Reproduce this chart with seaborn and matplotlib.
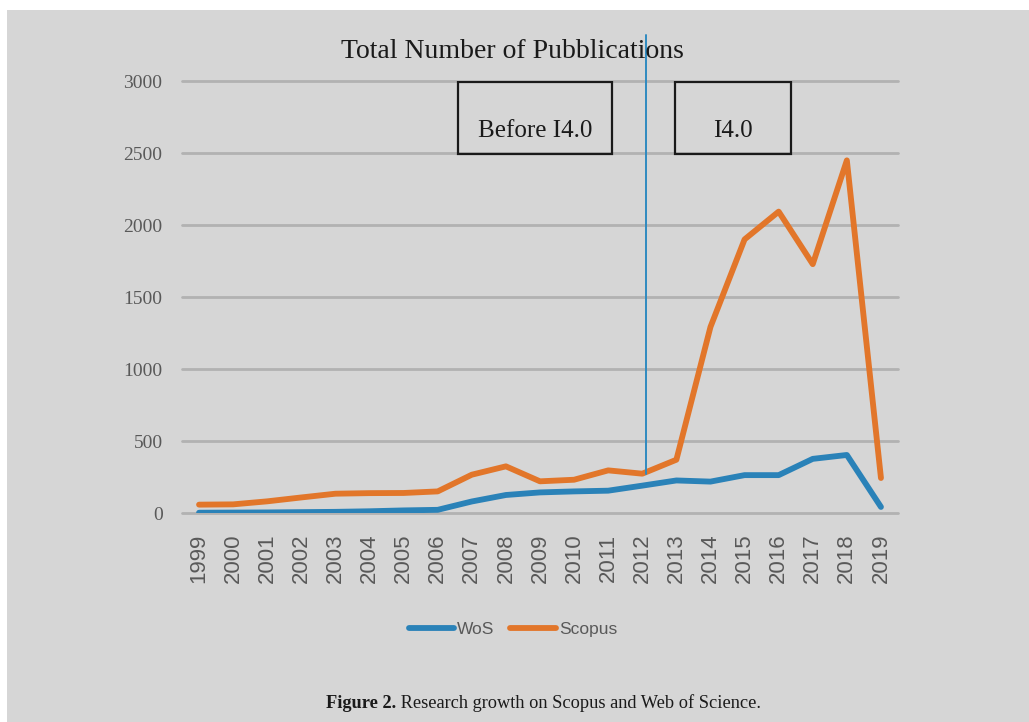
import matplotlib
matplotlib.use("Agg")
import matplotlib.pyplot as plt
from matplotlib.patches import Rectangle
import pandas as pd
import seaborn as sns

# data
years = list(range(1999, 2020))
wos = [2, 3, 4, 6, 8, 12, 18, 22, 80, 125, 143, 150, 155, 190, 226, 218, 263, 263, 376, 403, 42]
scopus = [58, 60, 81, 108, 134, 138, 139, 150, 266, 324, 220, 231, 296, 273, 370, 1292, 1900, 2093, 1728, 2449, 243]
series_names = ["WoS", "Scopus"]
series_colors = ["#2a82b8", "#e2762a"]
period_labels = ["Before I4.0", "I4.0"]
divider_year = 2012

df = pd.DataFrame({"Year": years, "WoS": wos, "Scopus": scopus})

BG = "#d6d6d6"
sns.set_theme(style="whitegrid", rc={
    "axes.facecolor": BG,
    "figure.facecolor": "white",
    "grid.color": "#b2b2b2",
    "grid.linewidth": 2.0,
})
SERIF = ["Liberation Serif", "DejaVu Serif"]

fig = plt.figure(figsize=(10.29, 7.22), dpi=100)
# gray page with thin white strip top/left
fig.patches.append(Rectangle((7 / 1029, 0), 1, 712 / 722, transform=fig.transFigure,
                             facecolor=BG, edgecolor="none", zorder=-10))
ax = fig.add_axes([182 / 1029, 1 - 513 / 722, (898 - 182) / 1029, (513 - 81) / 722])

for name, color in zip(series_names, series_colors):
    sns.lineplot(data=df, x="Year", y=name, ax=ax, color=color, linewidth=4.2,
                 label=name, solid_joinstyle="round", solid_capstyle="round")

ax.set_xlim(1998.5, 2019.5)
ax.set_ylim(0, 3000)
ax.set_xticks(years)
ax.set_xticklabels([str(y) for y in years], rotation=90, fontsize=16,
                   color="#595959", family=["Liberation Sans", "DejaVu Sans"])
ax.set_yticks(range(0, 3001, 500))
ax.set_yticklabels([str(v) for v in range(0, 3001, 500)], fontsize=14,
                   color="#595959", family=SERIF)
ax.tick_params(axis="both", length=0)
ax.tick_params(axis="y", pad=14)
ax.tick_params(axis="x", pad=15)
ax.grid(axis="x", visible=False)
ax.set_xlabel("")
ax.set_ylabel("")
for s in ax.spines.values():
    s.set_visible(False)
# keep the 0 and 3000 gridlines full width instead of half clipped
for gl in ax.get_ygridlines():
    gl.set_clip_on(False)

# divider line at 2012, from the Scopus point up through the title
y0 = scopus[years.index(divider_year)]
ax.axvline(divider_year + 0.1, ymin=y0 / 3000, ymax=1.106, color="#2f8ac0",
           linewidth=1.4, clip_on=False, zorder=5)

# period boxes
for (x0, x1), label in zip([(2006.6, 2011.1), (2012.96, 2016.36)], period_labels):
    ax.add_patch(Rectangle((x0, 2490), x1 - x0, 505, facecolor="none",
                           edgecolor="#1a1a1a", linewidth=1.6, zorder=6))
    ax.text((x0 + x1) / 2, 2650, label, ha="center", va="center", fontsize=18,
            family=SERIF, color="#1a1a1a", zorder=7)

fig.text(512 / 1029, 1 - 58 / 722, "Total Number of Pubblications", ha="center",
         va="baseline", fontsize=20, family=SERIF, color="#1a1a1a")

ax.legend(loc="center", bbox_to_anchor=(513 / 1029, 1 - 629 / 722),
          bbox_transform=fig.transFigure, ncol=2, frameon=False,
          handlelength=2.6, handletextpad=0.2, columnspacing=0.9,
          prop={"family": ["Liberation Sans", "DejaVu Sans"], "size": 12.5},
          labelcolor="#595959")

t1 = fig.text(326 / 1029, 1 - 708 / 722, "Figure 2.", ha="left", va="baseline",
              fontsize=13.2, fontweight="bold", family=SERIF, color="#1a1a1a")
ax.annotate(" Research growth on Scopus and Web of Science.", xy=(1, 0),
            xycoords=t1, va="bottom", ha="left", fontsize=13.2, family=SERIF,
            color="#1a1a1a", annotation_clip=False)

fig.savefig("out.png", dpi=100, facecolor="white")
